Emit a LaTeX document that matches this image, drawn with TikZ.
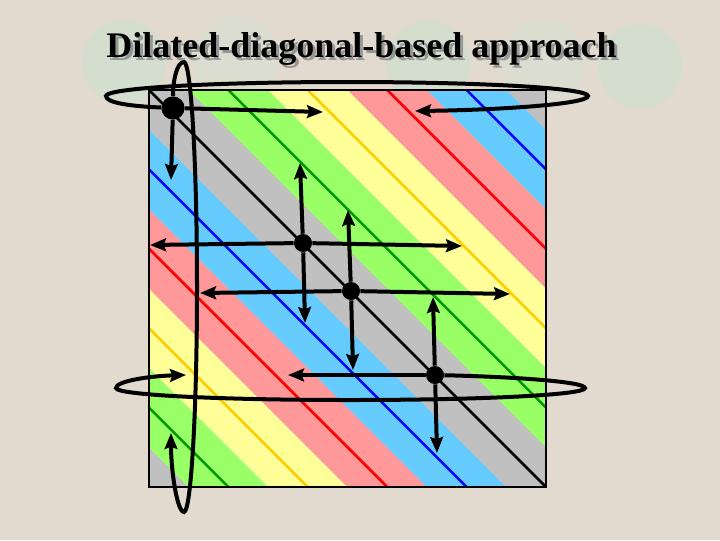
\documentclass[tikz,border=0pt]{standalone}
\usepackage{fontspec}
\setmainfont{Liberation Serif}
\usetikzlibrary{arrows.meta}

\definecolor{paper}{RGB}{226,218,206}
\definecolor{blob}{RGB}{212,222,206}
\definecolor{blobpale}{RGB}{218,221,208}
\definecolor{shade}{RGB}{150,150,150}
\definecolor{bgray}{RGB}{192,192,192}
\definecolor{bgreen}{RGB}{153,255,102}
\definecolor{byellow}{RGB}{255,255,153}
\definecolor{bred}{RGB}{255,153,153}
\definecolor{bblue}{RGB}{102,204,255}
\definecolor{lgreen}{RGB}{0,153,0}
\definecolor{lyellow}{RGB}{255,204,0}
\definecolor{lred}{RGB}{255,0,0}
\definecolor{lblue}{RGB}{0,0,255}
\newcommand\titlefont{\fontsize{25.6}{30}\selectfont\bfseries}
\newcommand\shadowed[1]{\rlap{\kern0.075cm\raisebox{-0.075cm}{\color{shade}#1}}#1}

\begin{document}
\begin{tikzpicture}[x=0.025cm, y=-0.025cm,
  >={Stealth[length=0.4cm,width=0.32cm,inset=0.06cm]}]
  \tikzstyle{dot} = [circle, fill=black, inner sep=0pt, minimum size=0.45cm]
  \tikzstyle{arr} = [->, line width=0.1cm]
  \tikzstyle{stripe} = [line width=0.065cm]

  % Background
  \fill[paper] (0,0) rectangle (720,540);
  \useasboundingbox (0,0) rectangle (720,540);
  \foreach \cx/\cy/\c in {124/62/blob, 235/58/blobpale, 428/63/blob, 543/62/blobpale, 640/66/blob}
    \fill[\c] (\cx,\cy) circle (42);

  % Title
  \node[anchor=base west, inner sep=0pt] (title) at (106,57) {\titlefont\shadowed{Dilated-diagonal-based approach}};

  % Diagonal stripes
  \begin{scope}
    \clip (149,90) rectangle (546,487);
    \foreach \k/\fc/\lc in {-5/bgray/black, -4/bgreen/lgreen, -3/byellow/lyellow,
        -2/bred/lred, -1/bblue/lblue, 0/bgray/black, 1/bgreen/lgreen,
        2/byellow/lyellow, 3/bred/lred, 4/bblue/lblue, 5/bgray/black}{
      \pgfmathsetmacro\a{149+79.4*\k}
      \fill[\fc] (\a-479.7,-350) -- ++(880,880) -- ++(79.4,0) -- ++(-880,-880) -- cycle;
      \draw[\lc, stripe] (\a-440,-350) -- ++(880,880);
    }
  \end{scope}
  \draw[line width=0.07cm] (149,90) rectangle (546,487);

  % Define nodes
  \node[dot, minimum size=0.58cm] (p1) at (173,108) {};
  \node[dot] (p2) at (303,243) {};
  \node[dot] (p3) at (351,291) {};
  \node[dot] (p4) at (435,375) {};

  \coordinate (p1d) at (171,180);
  \coordinate (p1r) at (323,112);
  \coordinate (p2l) at (150,245);
  \coordinate (p2r) at (462,246);
  \coordinate (p2u) at (300,163);
  \coordinate (p2d) at (305,323);
  \coordinate (p3l) at (200,293);
  \coordinate (p3r) at (510,294);
  \coordinate (p3u) at (348,210);
  \coordinate (p3d) at (353,370);
  \coordinate (p4l) at (288,375);
  \coordinate (p4u) at (433,297);
  \coordinate (p4d) at (437,453);
  \coordinate (p1w) at (415,111);
  \coordinate (p1s) at (171,433);
  \coordinate (p4w) at (186,375);

  \path [arr] (p1) edge (p1d) edge (p1r);
  \path [arr] (p2) edge (p2l) edge (p2r) edge (p2u) edge (p2d);
  \path [arr] (p3) edge (p3l) edge (p3r) edge (p3u) edge (p3d);
  \path [arr] (p4) edge (p4l) edge (p4u) edge (p4d);

  % Wrap-around links
  \draw [arr] (p1) .. controls (125,106) and (106,102) .. (106,96)
    .. controls (106,88) and (214,82) .. (347,82)
    .. controls (480,82) and (588,88) .. (588,96)
    .. controls (588,104) and (500,110) .. (p1w);
  \draw [arr] (p1) .. controls (173,80) and (177,62) .. (184,62)
    .. controls (191,62) and (197,163) .. (197,287)
    .. controls (197,411) and (191,512) .. (184,512)
    .. controls (177,512) and (171,470) .. (p1s);
  \draw [arr] (p4) .. controls (520,377) and (585,382) .. (585,388)
    .. controls (585,395) and (480,400) .. (350,400)
    .. controls (221,400) and (116,395) .. (116,388)
    .. controls (116,381) and (150,376) .. (p4w);
\end{tikzpicture}
\end{document}
